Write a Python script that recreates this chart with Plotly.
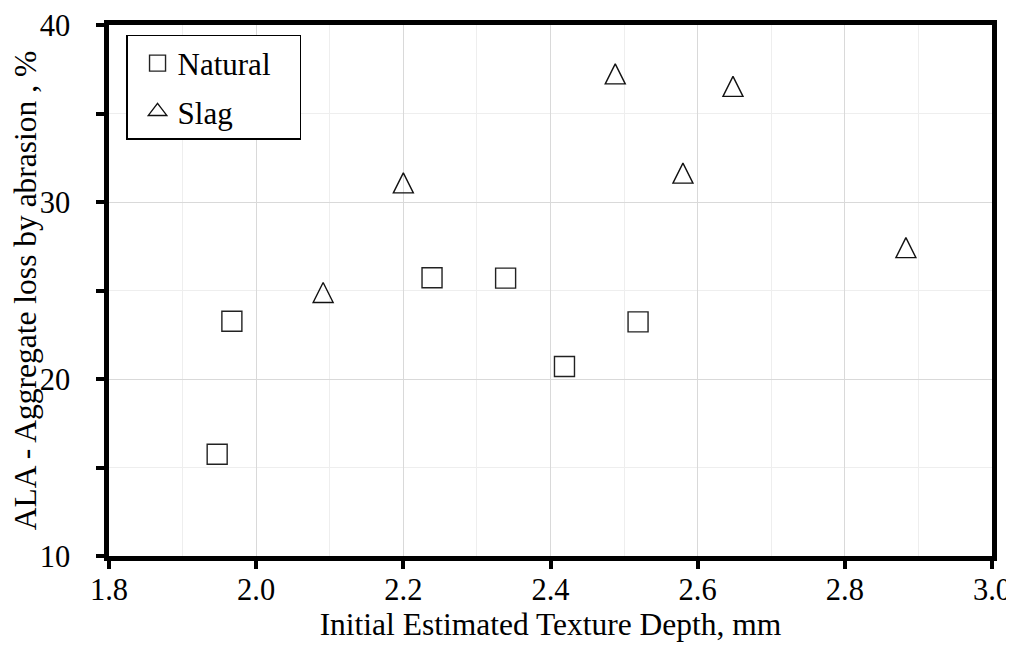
import plotly.graph_objects as go

# values
natural_depth = [1.947, 1.967, 2.239, 2.339, 2.419, 2.519]
natural_ala = [15.75, 23.26, 25.72, 25.70, 20.71, 23.23]

slag_depth = [2.091, 2.200, 2.488, 2.580, 2.648, 2.883]
slag_ala = [24.89, 31.08, 37.24, 31.63, 36.53, 27.42]

FONT = "Liberation Serif, Times New Roman, serif"
NBSP = "\u00a0"

fig = go.Figure()

fig.add_trace(go.Scatter(
    x=natural_depth, y=natural_ala, mode="markers", name="Natural" + NBSP * 3,
    legendgroup="a",
    marker=dict(symbol="square-open", size=20, color="#222222",
                line=dict(width=1.4, color="#222222")),
))
# arrow-down turned round and pushed back by half its size gives an
# upright triangle as tall as it is wide, centred on the point
fig.add_trace(go.Scatter(
    x=slag_depth, y=slag_ala, mode="markers", name="Slag",
    legendgroup="b", showlegend=False,
    marker=dict(symbol="arrow-down-open", size=20, angle=180, standoff=10,
                color="#111111", line=dict(width=1.4, color="#111111")),
))
# legend swatch for the slag series (the legend ignores standoff)
fig.add_trace(go.Scatter(
    x=[None], y=[None], mode="markers", name="Slag",
    legendgroup="b",
    marker=dict(symbol="triangle-up-open", size=16, color="#111111",
                line=dict(width=1.4, color="#111111")),
))

axis_common = dict(
    showline=True, linecolor="black", linewidth=4.5, mirror=True,
    ticks="outside", tickcolor="black", tickwidth=4, ticklen=8,
    tickfont=dict(family=FONT, size=30.5, color="black"),
    zeroline=False, gridcolor="#d9d9d9", gridwidth=1.3,
    automargin=False, ticklabeloverflow="allow",
)

fig.update_xaxes(
    range=[1.8, 3.0], dtick=0.2, tick0=1.8, tickformat=".1f",
    ticklabelstandoff=-5,
    minor=dict(dtick=0.1, showgrid=True, gridcolor="#eeeeee", gridwidth=1.3, ticks=""),
    title=dict(text="Initial Estimated Texture Depth, mm",
               font=dict(family=FONT, size=31.5, color="black"), standoff=3),
    **axis_common,
)
fig.update_yaxes(
    range=[10, 40], dtick=10, tick0=10,
    ticklabelstandoff=20,
    minor=dict(dtick=5, showgrid=True, gridcolor="#eeeeee", gridwidth=1.3,
               ticks="outside", ticklen=8, tickwidth=4, tickcolor="black"),
    title=dict(text="ALA - Aggregate loss by abrasion , %",
               font=dict(family=FONT, size=31.5, color="black"), standoff=7),
    **axis_common,
)

fig.update_layout(
    width=1006, height=636,
    margin=dict(l=101, r=22, t=17, b=88),
    paper_bgcolor="white", plot_bgcolor="white",
    showlegend=True,
    legend=dict(
        x=0.0193, y=0.9812, xanchor="left", yanchor="top",
        bgcolor="white", bordercolor="black", borderwidth=1.5,
        font=dict(family=FONT, size=31, color="black"),
        tracegroupgap=5, itemwidth=30, indentation=10,
    ),
)

fig.write_html("out.html")
